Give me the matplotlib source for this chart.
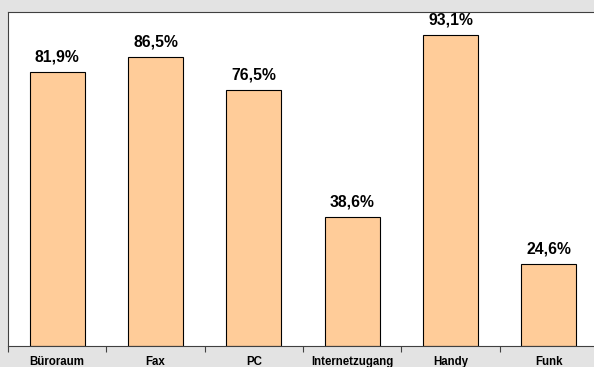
import matplotlib.pyplot as plt
import numpy as np

kategorien = ['Büroraum', 'Fax', 'PC', 'Internetzugang', 'Handy', 'Funk']
anteile = [81.9, 86.5, 76.5, 38.6, 93.1, 24.6]

plt.rcParams['font.family'] = ['Liberation Sans', 'DejaVu Sans']

fig = plt.figure(figsize=(5.94, 3.67), dpi=100)
fig.patch.set_facecolor('#e3e3e3')
ax = fig.add_axes([8 / 594, 21 / 367, 590 / 594, 334 / 367])

x = np.arange(len(kategorien))
ax.bar(x, anteile, width=0.56, color='#ffcc99', edgecolor='black', linewidth=0.8)
for xi, v in zip(x, anteile):
    ax.annotate(f'{v:.1f}%'.replace('.', ','), (xi, v), xytext=(0, 5.5),
                textcoords='offset points', ha='center', va='bottom',
                fontsize=11.3, fontweight='bold')

ax.set_xlim(-0.5, len(kategorien) - 0.5)
ax.set_ylim(0, 100)
ax.set_yticks([])
ax.set_xticks(np.arange(len(kategorien) + 1) - 0.5)
ax.set_xticklabels([])
ax.set_xticks(x, minor=True)
ax.set_xticklabels(kategorien, minor=True, fontsize=8.3, fontweight='bold')
ax.tick_params(axis='x', which='major', length=4, direction='out', color='#404040')
ax.tick_params(axis='x', which='minor', length=0, pad=7)
ax.spines['right'].set_visible(False)
ax.spines['top'].set_color('#404040')
ax.spines['left'].set_color('#404040')
ax.spines['bottom'].set_color('#404040')

fig.savefig('out.png', dpi=100, facecolor=fig.get_facecolor())
